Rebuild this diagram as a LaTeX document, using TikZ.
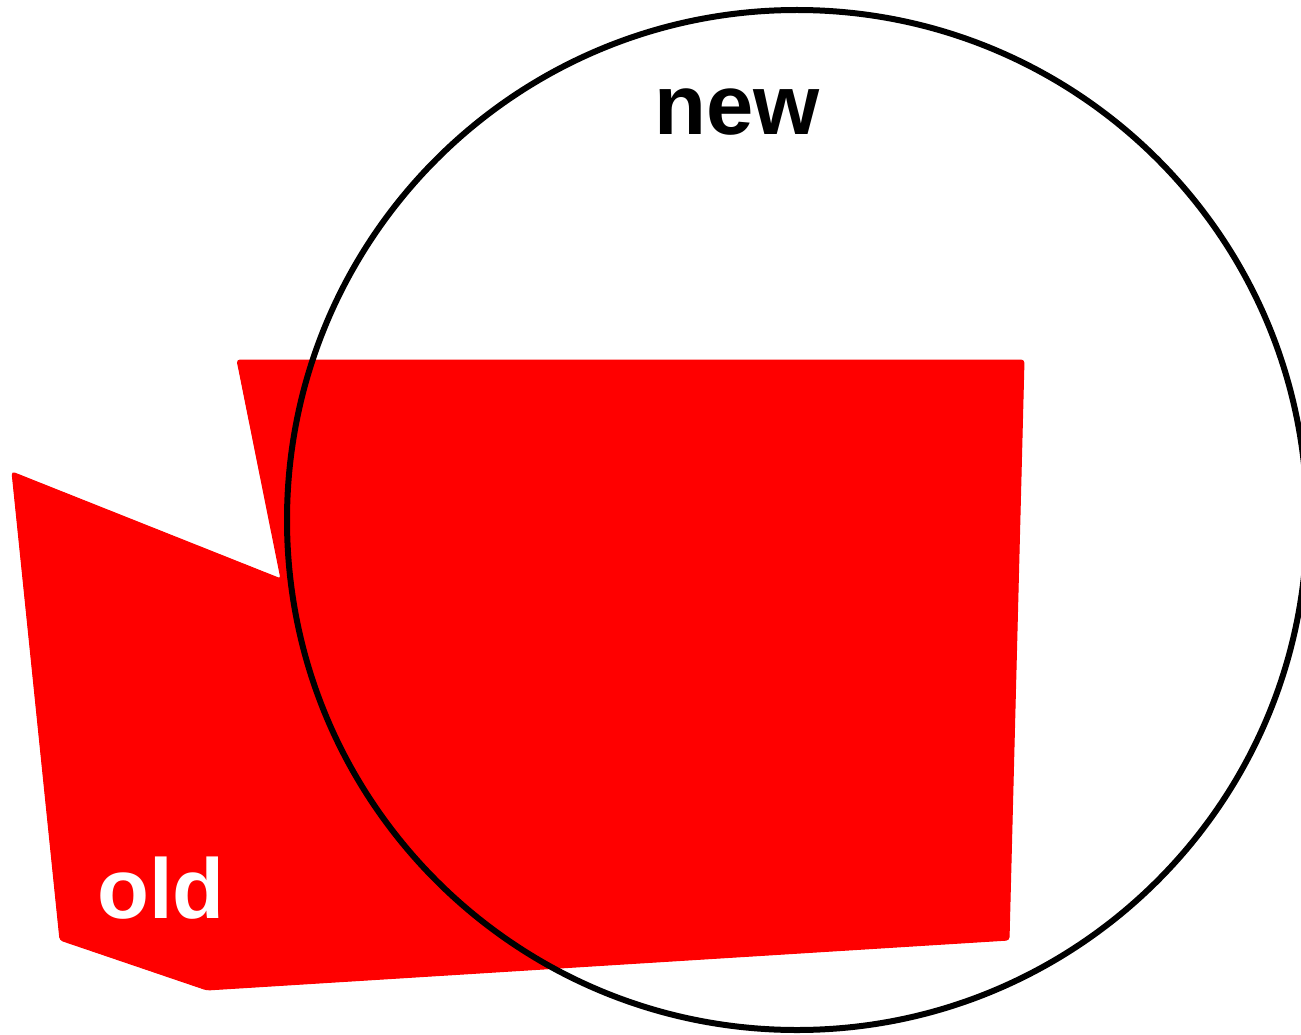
\documentclass[tikz,border=0pt]{standalone}
\usepackage{fontspec}
\setmainfont{Liberation Sans}
\begin{document}
\begin{tikzpicture}[x=1pt,y=-1pt,
  oldshape/.style={fill={rgb,255:red,255;green,0;blue,0}, draw={rgb,255:red,255;green,0;blue,0}, line width=1pt, rounded corners=3pt},
  newring/.style={draw=black, line width=6pt},
  lbl/.style={font=\fontsize{85}{85}\selectfont\bfseries, inner sep=0pt, anchor=base}]
\useasboundingbox (0,0) rectangle (1301,1035);
\filldraw[oldshape] (237,360) -- (1024,360) -- (1009,940) -- (207,990) -- (60,940) -- (12,472) -- (281,579) -- cycle;
\draw[newring] (797,520) circle (510);
\node[lbl, text=black] (new) at (737,135) {new};
\node[lbl, text=white] (old) at (161,918) {old};
\end{tikzpicture}
\end{document}
